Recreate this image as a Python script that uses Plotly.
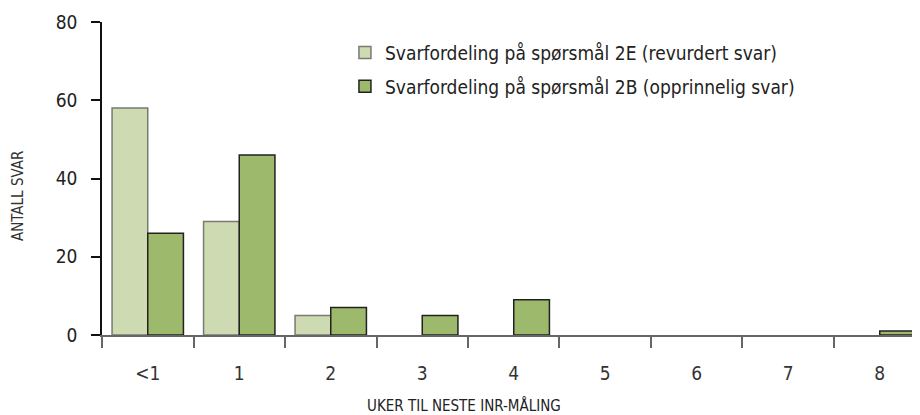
import plotly.graph_objects as go

categories = ["<1", "1", "2", "3", "4", "5", "6", "7", "8"]
revurdert = [58, 29, 5, 0, 0, 0, 0, 0, 0]
opprinnelig = [26, 46, 7, 5, 9, 0, 0, 0, 1]
series_names = ["Svarfordeling på spørsmål 2E (revurdert svar)",
                "Svarfordeling på spørsmål 2B (opprinnelig svar)"]
y_ticks = [0, 20, 40, 60, 80]

FONT = "DejaVu Sans Condensed, Roboto, sans-serif"


def hide_zero(vals):
    return [v if v != 0 else None for v in vals]


fig = go.Figure()
fig.add_trace(go.Bar(x=categories, y=hide_zero(revurdert), name=series_names[0],
                     legendgroup="a",
                     marker=dict(color="#cedab2", line=dict(color="#7a7a72", width=1.5))))
fig.add_trace(go.Bar(x=categories, y=hide_zero(opprinnelig), name=series_names[1],
                     legendgroup="b",
                     marker=dict(color="#9cb96c", line=dict(color="#222222", width=1.5))))

# page body has an 8px margin, so the figure is sized to fit the 920x415 window
fig.update_layout(
    width=912, height=407,
    margin=dict(l=94, r=0, t=14, b=80),
    paper_bgcolor="white", plot_bgcolor="rgba(0,0,0,0)",
    barmode="group", bargap=0.22, bargroupgap=0,
    font=dict(family=FONT, size=19, color="#222"),
    showlegend=True,
    legend=dict(x=0.297, y=0.963, xanchor="left", yanchor="top",
                font=dict(size=19, color="#222"), bgcolor="rgba(0,0,0,0)",
                tracegroupgap=6),
    xaxis=dict(type="category", range=[-0.5, 8.44], tickson="boundaries",
               showline=True, linecolor="#666", linewidth=1.5,
               ticks="outside", ticklen=11, tickcolor="#666", tickwidth=1.5,
               ticklabelstandoff=20, showgrid=False, zeroline=False,
               tickfont=dict(size=19, color="#333")),
    yaxis=dict(range=[0, 80], tickvals=y_ticks, showline=True, linecolor="#111",
               linewidth=1.5, ticks="outside", ticklen=9, tickcolor="#111",
               tickwidth=1.5, showgrid=False, zeroline=False,
               ticklabelstandoff=10, tickfont=dict(size=19, color="#222")),
    annotations=[
        dict(text="ANTALL SVAR", xref="paper", yref="paper", x=-84 / 818, y=0.444,
             xanchor="center", yanchor="middle", textangle=-90, showarrow=False,
             font=dict(size=15, color="#333")),
        dict(text="UKER TIL NESTE INR-MÅLING", xref="paper", yref="paper",
             x=(464 - 102) / 818, y=-0.225, xanchor="center", yanchor="middle",
             showarrow=False, font=dict(size=15, color="#222")),
    ],
)

fig.write_html("out.html")
